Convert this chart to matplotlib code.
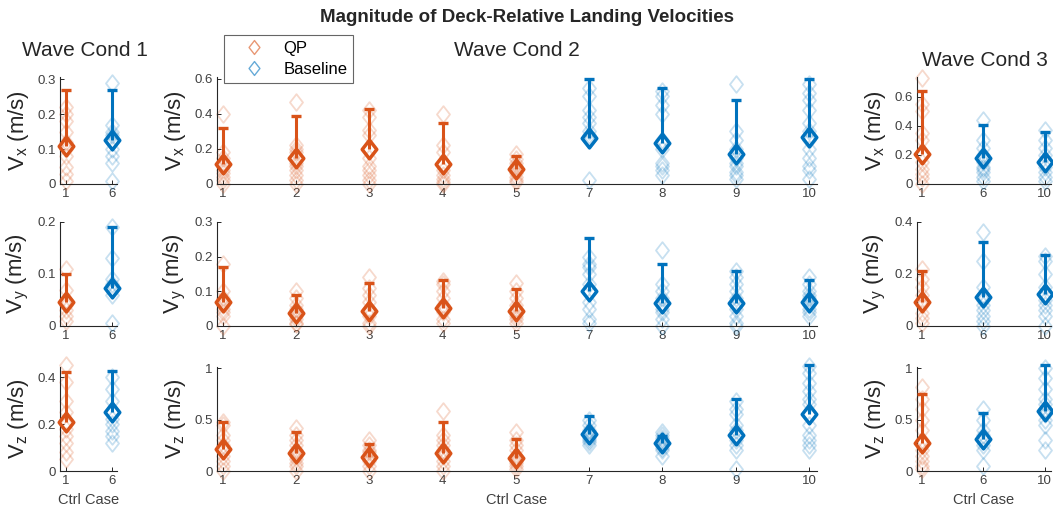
import numpy as np
import matplotlib
matplotlib.use('Agg')
import matplotlib.pyplot as plt
from matplotlib.path import Path
from matplotlib.lines import Line2D

plt.rcParams['font.family'] = ['Liberation Sans', 'DejaVu Sans']
plt.rcParams['mathtext.default'] = 'regular'

QP_COLOR = '#D95319'
BASE_COLOR = '#0072BD'
TXT = '#262626'
TICK_TXT = '#404040'

# ---- data ----
cases_wc1 = [1, 6]
cases_wc2 = [1, 2, 3, 4, 5, 7, 8, 9, 10]
cases_wc3 = [1, 6, 10]
qp_cases = [1, 2, 3, 4, 5]

# wave cond 1
wc1_vx_mean = [0.109, 0.126]
wc1_vx_std = [0.159, 0.144]
wc1_vx_pts = [[0.22, 0.20, 0.18, 0.15, 0.12, 0.10, 0.08, 0.05, 0.03, 0.01],
              [0.29, 0.17, 0.15, 0.14, 0.12, 0.10, 0.08, 0.06, 0.01]]
wc1_vy_mean = [0.046, 0.073]
wc1_vy_std = [0.054, 0.117]
wc1_vy_pts = [[0.11, 0.07, 0.05, 0.04, 0.03, 0.02, 0.01],
              [0.19, 0.13, 0.09, 0.08, 0.07, 0.06, 0.005]]
wc1_vz_mean = [0.21, 0.25]
wc1_vz_std = [0.21, 0.177]
wc1_vz_pts = [[0.45, 0.38, 0.30, 0.25, 0.20, 0.18, 0.15, 0.12, 0.08, 0.05],
              [0.40, 0.35, 0.30, 0.25, 0.22, 0.20, 0.17, 0.15, 0.12]]

# wave cond 2
wc2_vx_mean = [0.112, 0.15, 0.198, 0.116, 0.084, 0.26, 0.236, 0.173, 0.27]
wc2_vx_std = [0.208, 0.24, 0.232, 0.234, 0.076, 0.34, 0.311, 0.305, 0.33]
wc2_vx_pts = [[0.40, 0.18, 0.15, 0.12, 0.10, 0.08, 0.06, 0.04, 0.02, 0.0],
              [0.47, 0.22, 0.20, 0.18, 0.15, 0.12, 0.10, 0.08, 0.05, 0.02, 0.0],
              [0.42, 0.38, 0.31, 0.28, 0.20, 0.15, 0.10, 0.08, 0.05, 0.02, 0.0],
              [0.40, 0.22, 0.18, 0.12, 0.08, 0.05, 0.03, 0.01, 0.0],
              [0.17, 0.14, 0.12, 0.10, 0.08, 0.06, 0.04, 0.02, 0.01],
              [0.55, 0.50, 0.42, 0.38, 0.35, 0.30, 0.28, 0.25, 0.02],
              [0.53, 0.50, 0.45, 0.40, 0.25, 0.20, 0.12, 0.10, 0.08, 0.05],
              [0.57, 0.30, 0.25, 0.20, 0.15, 0.12, 0.10, 0.07, 0.05, 0.03],
              [0.57, 0.52, 0.48, 0.42, 0.35, 0.30, 0.25, 0.20, 0.15, 0.10, 0.08, 0.03]]
wc2_vy_mean = [0.068, 0.038, 0.043, 0.053, 0.044, 0.10, 0.067, 0.067, 0.07]
wc2_vy_std = [0.103, 0.051, 0.082, 0.08, 0.064, 0.153, 0.113, 0.093, 0.063]
wc2_vy_pts = [[0.18, 0.10, 0.08, 0.07, 0.06, 0.05, 0.04, 0.03, 0.0],
              [0.10, 0.08, 0.06, 0.05, 0.04, 0.03, 0.02, 0.01, 0.005],
              [0.14, 0.11, 0.09, 0.07, 0.05, 0.04, 0.03, 0.01, 0.0],
              [0.13, 0.12, 0.10, 0.08, 0.06, 0.05, 0.04, 0.02, 0.01],
              [0.125, 0.10, 0.08, 0.06, 0.05, 0.04, 0.03, 0.02, 0.01],
              [0.20, 0.18, 0.17, 0.15, 0.12, 0.07, 0.05, 0.02, 0.01],
              [0.22, 0.12, 0.10, 0.08, 0.06, 0.05, 0.04, 0.02, 0.0],
              [0.16, 0.14, 0.12, 0.10, 0.08, 0.06, 0.05, 0.03, 0.01, 0.0],
              [0.14, 0.12, 0.10, 0.09, 0.08, 0.06, 0.05, 0.04, 0.03]]
wc2_vz_mean = [0.21, 0.17, 0.14, 0.17, 0.13, 0.36, 0.27, 0.35, 0.55]
wc2_vz_std = [0.27, 0.21, 0.12, 0.31, 0.18, 0.17, 0.07, 0.35, 0.48]
wc2_vz_pts = [[0.48, 0.45, 0.35, 0.30, 0.25, 0.20, 0.15, 0.10, 0.05, 0.0],
              [0.42, 0.35, 0.30, 0.25, 0.20, 0.15, 0.12, 0.08, 0.05, 0.0],
              [0.30, 0.25, 0.20, 0.18, 0.15, 0.12, 0.10, 0.05, 0.0],
              [0.58, 0.35, 0.30, 0.25, 0.20, 0.15, 0.10, 0.05, 0.0],
              [0.38, 0.30, 0.25, 0.20, 0.15, 0.12, 0.10, 0.08, 0.05, 0.02],
              [0.50, 0.45, 0.40, 0.38, 0.35, 0.32, 0.30, 0.28, 0.25],
              [0.38, 0.35, 0.32, 0.30, 0.28, 0.25, 0.22, 0.20, 0.15],
              [0.68, 0.60, 0.55, 0.45, 0.40, 0.35, 0.30, 0.25, 0.20, 0.02],
              [1.02, 0.95, 0.85, 0.78, 0.70, 0.65, 0.55, 0.45, 0.35, 0.30, 0.25, 0.20]]

# wave cond 3
wc3_vx_mean = [0.207, 0.177, 0.154]
wc3_vx_std = [0.43, 0.23, 0.20]
wc3_vx_pts = [[0.73, 0.55, 0.50, 0.35, 0.30, 0.20, 0.15, 0.10, 0.07, 0.04, 0.0],
              [0.44, 0.30, 0.25, 0.20, 0.15, 0.12, 0.10, 0.08, 0.05, 0.02],
              [0.37, 0.30, 0.25, 0.20, 0.15, 0.12, 0.08, 0.05, 0.02]]
wc3_vy_mean = [0.093, 0.113, 0.123]
wc3_vy_std = [0.12, 0.211, 0.15]
wc3_vy_pts = [[0.22, 0.18, 0.15, 0.12, 0.10, 0.08, 0.05, 0.03, 0.01],
              [0.36, 0.25, 0.15, 0.12, 0.10, 0.08, 0.06, 0.04, 0.02, 0.0],
              [0.27, 0.25, 0.20, 0.15, 0.12, 0.10, 0.08, 0.06, 0.04, 0.0]]
wc3_vz_mean = [0.27, 0.31, 0.58]
wc3_vz_std = [0.48, 0.25, 0.45]
wc3_vz_pts = [[0.82, 0.70, 0.60, 0.50, 0.40, 0.30, 0.20, 0.15, 0.10, 0.05, 0.02],
              [0.60, 0.50, 0.40, 0.35, 0.30, 0.25, 0.20, 0.05],
              [1.00, 0.90, 0.80, 0.70, 0.65, 0.60, 0.55, 0.50, 0.45, 0.30, 0.20]]

row_labels = ['$V_x$ (m/s)', '$V_y$ (m/s)', '$V_z$ (m/s)']
wave_titles = ['Wave Cond 1', 'Wave Cond 2', 'Wave Cond 3']

# diamond a bit taller than wide, like the matlab one
DIAMOND = Path([(0, 1), (0.78, 0), (0, -1), (-0.78, 0), (0, 1)], closed=True)

W, H = 1053, 512


def px_axes(fig, x0, y0, x1, y1):
    return fig.add_axes([x0 / W, 1 - y1 / H, (x1 - x0) / W, (y1 - y0) / H])


def draw_panel(ax, cases, means, stds, points, ylim, yticks, xlim):
    pos = np.arange(1, len(cases) + 1)
    for p, c, m, s, pts in zip(pos, cases, means, stds, points):
        col = QP_COLOR if c in qp_cases else BASE_COLOR
        ax.plot(np.full(len(pts), p), pts, linestyle='none', marker=DIAMOND, ms=12,
                mfc='none', mec=col, mew=1.3, alpha=0.22, clip_on=False, zorder=2)
        ax.plot([p, p], [m, m + s], color=col, lw=2.2, solid_capstyle='butt',
                clip_on=False, zorder=3)
        ax.plot(p, m + s, marker='_', ms=7, mew=2.4, color=col, clip_on=False, zorder=3)
        ax.plot(p, m, marker=DIAMOND, ms=13.5, mfc='none', mec=col, mew=2.5,
                clip_on=False, zorder=4)
    ax.set_xticks(pos)
    ax.set_xticklabels([str(c) for c in cases])
    ax.set_xlim(*xlim)
    ax.set_ylim(*ylim)
    ax.set_yticks(yticks)
    ax.set_yticklabels([('%g' % t) for t in yticks])
    for side in ['top', 'right']:
        ax.spines[side].set_visible(False)
    for side in ['left', 'bottom']:
        ax.spines[side].set_color(TXT)
        ax.spines[side].set_linewidth(0.8)
    ax.tick_params(direction='in', length=3, width=0.7, color=TXT,
                   labelsize=9.5, labelcolor=TICK_TXT, pad=3)


fig = plt.figure(figsize=(W / 100, H / 100), dpi=100)

col_px = [(60, 117), (217, 817), (917, 1051)]
row_px = [(77, 184), (222, 326), (367, 471)]
xlims = [(0.87, 2.11), (0.92, 9.11), (0.92, 3.1)]

data = [
    (cases_wc1, [(wc1_vx_mean, wc1_vx_std, wc1_vx_pts),
                 (wc1_vy_mean, wc1_vy_std, wc1_vy_pts),
                 (wc1_vz_mean, wc1_vz_std, wc1_vz_pts)]),
    (cases_wc2, [(wc2_vx_mean, wc2_vx_std, wc2_vx_pts),
                 (wc2_vy_mean, wc2_vy_std, wc2_vy_pts),
                 (wc2_vz_mean, wc2_vz_std, wc2_vz_pts)]),
    (cases_wc3, [(wc3_vx_mean, wc3_vx_std, wc3_vx_pts),
                 (wc3_vy_mean, wc3_vy_std, wc3_vy_pts),
                 (wc3_vz_mean, wc3_vz_std, wc3_vz_pts)]),
]
ylims = [[(0, 0.306), (0, 0.2), (0, 0.443)],
         [(0, 0.61), (0, 0.3), (0, 1.01)],
         [(0, 0.735), (0, 0.4), (0, 1.01)]]
yticks = [[[0, 0.1, 0.2, 0.3], [0, 0.1, 0.2], [0, 0.2, 0.4]],
          [[0, 0.2, 0.4, 0.6], [0, 0.1, 0.2, 0.3], [0, 0.5, 1]],
          [[0, 0.2, 0.4, 0.6], [0, 0.2, 0.4], [0, 0.5, 1]]]

for ci, (cases, rows) in enumerate(data):
    x0, x1 = col_px[ci]
    for ri, (means, stds, pts) in enumerate(rows):
        y0, y1 = row_px[ri]
        ax = px_axes(fig, x0, y0, x1, y1)
        draw_panel(ax, cases, means, stds, pts, ylims[ci][ri], yticks[ci][ri], xlims[ci])
        ax.set_ylabel(row_labels[ri], fontsize=16, color=TXT)
        ax.yaxis.set_label_coords(-29 / (x1 - x0), 0.5)
        if ri == 2:
            ax.set_xlabel('Ctrl Case', fontsize=10.5, color=TICK_TXT, labelpad=4)

# wave condition headers and main title
fig.text(85 / W, 1 - 50 / H, wave_titles[0], ha='center', va='center', fontsize=15, color=TXT)
fig.text(517 / W, 1 - 50 / H, wave_titles[1], ha='center', va='center', fontsize=15, color=TXT)
fig.text(985 / W, 1 - 60 / H, wave_titles[2], ha='center', va='center', fontsize=15, color=TXT)
fig.text(527 / W, 1 - 17 / H, 'Magnitude of Deck-Relative Landing Velocities',
         ha='center', va='center', fontsize=13.5, fontweight='bold', color=TXT)

handles = [Line2D([], [], linestyle='none', marker=DIAMOND, ms=10, mfc='none',
                  mec=QP_COLOR, mew=1.0, alpha=0.6),
           Line2D([], [], linestyle='none', marker=DIAMOND, ms=10, mfc='none',
                  mec=BASE_COLOR, mew=1.0, alpha=0.6)]
leg = fig.legend(handles, ['QP', 'Baseline'], loc='upper left',
                 bbox_to_anchor=(224 / W, 1 - 35 / H), borderaxespad=0,
                 fontsize=12, frameon=True, fancybox=False, borderpad=0.35,
                 handlelength=2.9, handletextpad=0.3, labelspacing=0.35)
leg.get_frame().set_edgecolor('#404040')
leg.get_frame().set_linewidth(0.8)

fig.savefig('out.png', dpi=100)
